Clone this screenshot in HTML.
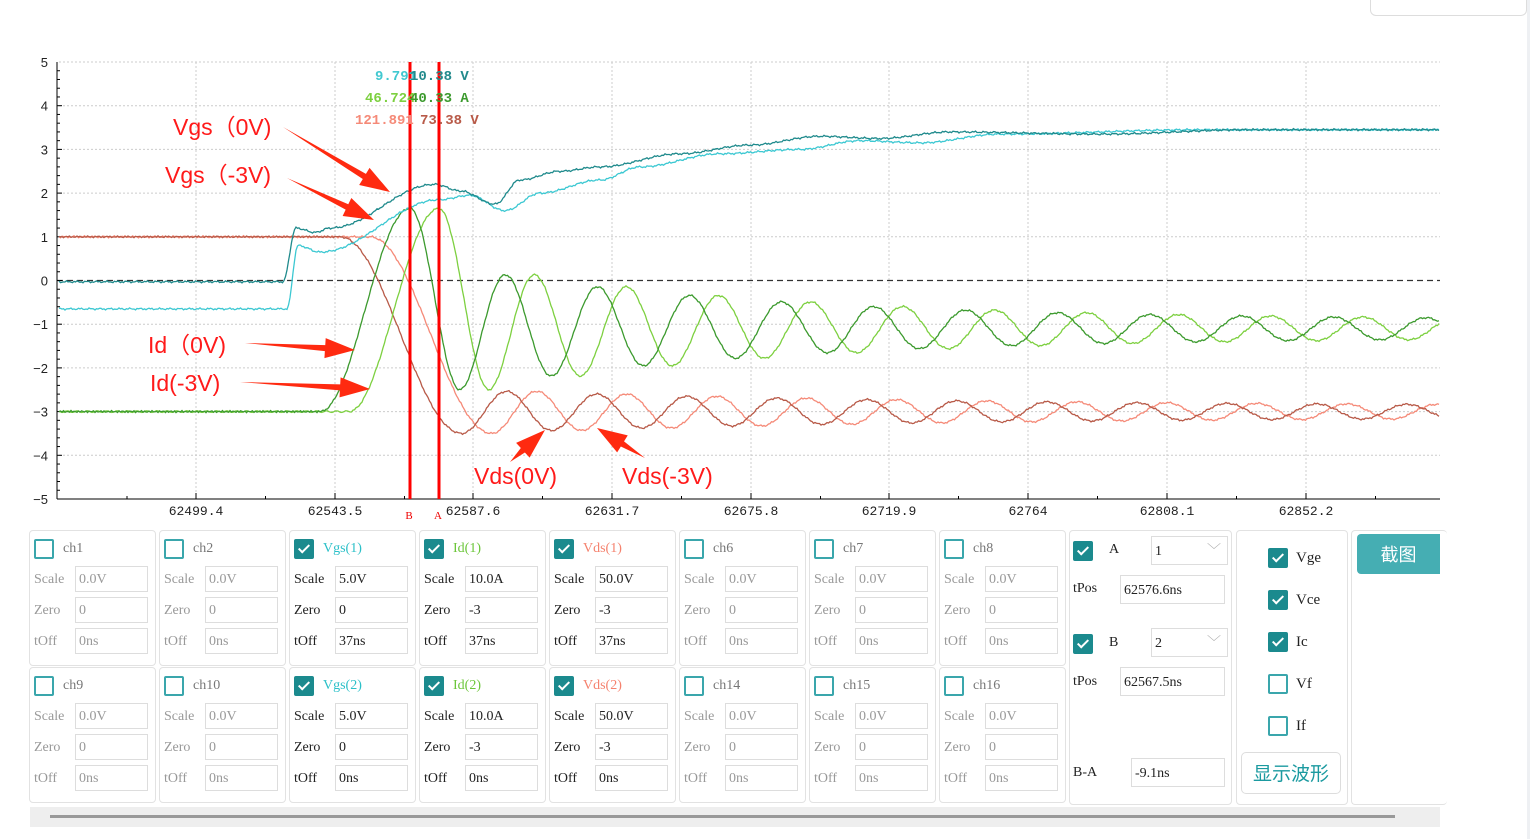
<!DOCTYPE html>
<html><head><meta charset="utf-8">
<style>
body{margin:0;width:1530px;height:839px;background:#fff;overflow:hidden;font-family:"Liberation Serif","Noto Serif CJK SC",serif;position:relative}
.cell{position:absolute;border:1px solid #e2e2e2;border-radius:4px;background:#fff;width:125px;height:134px}
.cb{position:absolute;width:16px;height:16px;border:2px solid #3aa6ac;border-radius:2px;background:#fff}
.cb.on{background:#1b8a8e;border-color:#1b8a8e}
.cb.on:after{content:"";position:absolute;left:5px;top:1px;width:4px;height:9px;border:solid #fff;border-width:0 2px 2px 0;transform:rotate(45deg)}
.lbl{position:absolute;font-size:14px;color:#777}
.row{position:absolute;font-size:14px;color:#999}
.inp{position:absolute;border:1px solid #ddd;height:26px;font-size:14px;line-height:26px;padding-left:3px;color:#999;box-sizing:border-box}
.dk{color:#222}
</style></head><body>
<svg id="s" width="1530" height="530" style="position:absolute;left:0;top:0" font-family="Liberation Sans, sans-serif"></svg>
<div id="panel"></div>
<div style="position:absolute;left:30px;top:807px;width:1410px;height:20px;background:#eee"></div>
<div style="position:absolute;left:50px;top:815px;width:1345px;height:3px;background:#999"></div>
<div style="position:absolute;left:1527px;top:0;width:3px;height:839px;background:#eef0f3"></div>
<div style="position:absolute;left:1370px;top:-10px;width:155px;height:24px;border:1px solid #ddd;border-radius:6px"></div>
<script>
var S=document.getElementById('s'),h='';
function Y(v){return 280.5-43.7*v}
for(var v=-4;v<=5;v++){if(v==0)continue;h+='<line x1="59" x2="1440" y1="'+Y(v)+'" y2="'+Y(v)+'" stroke="#ccc" stroke-dasharray="2,2"/>'}
var tk=[196,335,473,612,751,889,1028,1167,1306],tl=['62499.4','62543.5','62587.6','62631.7','62675.8','62719.9','62764','62808.1','62852.2'];
for(var i=0;i<tk.length;i++){h+='<line x1="'+tk[i]+'" x2="'+tk[i]+'" y1="62" y2="499" stroke="#ccc" stroke-dasharray="2,2"/>';
h+='<line x1="'+tk[i]+'" x2="'+tk[i]+'" y1="499" y2="493" stroke="#000"/>';
h+='<line x1="'+(tk[i]+69.5)+'" x2="'+(tk[i]+69.5)+'" y1="499" y2="496" stroke="#000"/>';
h+='<text x="'+tk[i]+'" y="515" font-size="13" text-anchor="middle" font-family="Liberation Mono,monospace" fill="#222">'+tl[i]+'</text>'}
h+='<line x1="127" x2="127" y1="499" y2="496" stroke="#000"/>';
h+='<line x1="57" x2="1440" y1="280.5" y2="280.5" stroke="#333" stroke-dasharray="6,4" stroke-width="1.3"/>';
h+='<line x1="57" x2="57" y1="62" y2="499" stroke="#000"/><line x1="57" x2="1440" y1="499" y2="499" stroke="#000"/>';
for(var v=-5;v<=5;v+=0.2){var y=Y(v),w=(Math.abs(v-Math.round(v))<0.01)?5:3;h+='<line x1="57" x2="'+(57+w)+'" y1="'+y+'" y2="'+y+'" stroke="#000"/>'}
for(var v=-5;v<=5;v++)h+='<text x="48" y="'+(Y(v)+5)+'" font-size="13" text-anchor="end" fill="#222">'+(v<0?'\u2212'+(-v):v)+'</text>';
function nz(x,k){return Math.sin(x*1.7+k)*0.5+Math.sin(x*0.63+k*2)*0.5}
function cs(a,b,x,va,vb){var t=(x-a)/(b-a);t=Math.max(0,Math.min(1,t));return va+(vb-va)*(1-Math.cos(Math.PI*t))/2}
function id(x,s){x-=s;if(x<320)return -3+0.02*nz(x,1);if(x<410)return cs(320,410,x,-3,1.65);if(x<460)return cs(410,460,x,1.65,-2.5);
var A=0.2+1.2*Math.exp(-(x-460)/300);return -1.1-A*Math.cos(2*Math.PI*(x-460)/92)}
function vds(x,s){x-=s;if(x<340)return 1+0.02*nz(x,2);if(x<462)return cs(340,462,x,1,-3.5);
var A=0.12+0.38*Math.exp(-(x-462)/450);return -3-A*Math.cos(2*Math.PI*(x-462)/90)}
function interp(pts,x){for(var i=1;i<pts.length;i++)if(x<=pts[i][0]){var a=pts[i-1],b=pts[i];return cs(a[0],b[0],x,a[1],b[1])}return pts[pts.length-1][1]}
var g0=[[59,-0.03],[283,-0.03],[296,1.2],[315,1.1],[330,1.2],[435,2.2],[460,2.05],[495,1.75],[520,2.3],[560,2.5],[600,2.6],[680,2.9],[750,3.1],[820,3.3],[880,3.25],[950,3.4],[1100,3.35],[1250,3.45],[1440,3.45]];
var g1=[[59,-0.65],[287,-0.65],[298,0.8],[320,0.65],[440,1.85],[470,1.95],[505,1.6],[540,2.0],[600,2.3],[640,2.6],[720,2.9],[800,3.0],[860,3.2],[920,3.15],[1000,3.35],[1200,3.45],[1440,3.45]];
function path(f,col,k){var d='';for(var x=59;x<=1440;x+=1.5){var v=f(x)+0.025*nz(x,k);d+=(x==59?'M':'L')+x.toFixed(1)+','+Y(v).toFixed(1)}
return '<path d="'+d+'" fill="none" stroke="'+col+'" stroke-width="1.3"/>'}
h+=path(function(x){return vds(x,30)},'#f58a78',3);
h+=path(function(x){return vds(x,0)},'#b85a48',4);
h+=path(function(x){return id(x,29)},'#7dd040',5);
h+=path(function(x){return id(x,0)},'#3c9a2e',6);
h+=path(function(x){return interp(g1,x)},'#3cc8d2',7);
h+=path(function(x){return interp(g0,x)},'#1f8a8c',8);
h+='<line x1="410" x2="410" y1="62" y2="499" stroke="#f00" stroke-width="3"/><line x1="439" x2="439" y1="62" y2="499" stroke="#f00" stroke-width="3"/>';
h+='<text x="409" y="519" font-size="11" fill="#e00" text-anchor="middle" font-family="Liberation Serif">B</text><text x="438" y="519" font-size="11" fill="#e00" text-anchor="middle" font-family="Liberation Serif">A</text>';
var mf='font-family="Liberation Mono,monospace" font-weight="bold" font-size="14"';
h+='<text x="375" y="80" '+mf+' fill="#40c8d0">9.791</text><text x="410" y="80" '+mf+' fill="#238a8c">10.38 V</text>';
h+='<text x="365" y="102" '+mf+' fill="#7dd040">46.724</text><text x="410" y="102" '+mf+' fill="#3c9a2e">40.33 A</text>';
h+='<text x="355" y="124" '+mf+' fill="#f58a78">121.891</text><text x="420" y="124" '+mf+' fill="#b85a48">73.38 V</text>';
function arr(x1,y1,x2,y2){var dx=x2-x1,dy=y2-y1,L=Math.hypot(dx,dy),ux=dx/L,uy=dy/L,px=-uy,py=ux,hl=30,hw=10;
var bx=x2-ux*hl,by=y2-uy*hl;return '<polygon points="'+x1+','+y1+' '+(bx+px*3)+','+(by+py*3)+' '+(bx+px*hw)+','+(by+py*hw)+' '+x2+','+y2+' '+(bx-px*hw)+','+(by-py*hw)+' '+(bx-px*3)+','+(by-py*3)+'" fill="#ff2a10"/>'}
var af='font-size="23" fill="#ff1a1a"';
h+='<text x="173" y="135" '+af+'>Vgs（0V)</text>'+arr(283,127,390,192);
h+='<text x="165" y="183" '+af+'>Vgs（-3V)</text>'+arr(287,178,374,220);
h+='<text x="148" y="353" '+af+'>Id（0V)</text>'+arr(245,343,355,350);
h+='<text x="150" y="391" '+af+'>Id(-3V)</text>'+arr(240,382,370,389);
h+='<text x="474" y="484" '+af+'>Vds(0V)</text>'+arr(510,462,545,430);
h+='<text x="622" y="484" '+af+'>Vds(-3V)</text>'+arr(645,458,597,428);
S.innerHTML=h;
var P='',names=[['ch1','ch2','Vgs(1)','Id(1)','Vds(1)','ch6','ch7','ch8'],['ch9','ch10','Vgs(2)','Id(2)','Vds(2)','ch14','ch15','ch16']];
var cols={2:'#2cc0c8',3:'#6cc63a',4:'#f5826e'};
for(var r=0;r<2;r++)for(var c=0;c<8;c++){var x=29+c*130,y=530+r*137,on=cols[c]!==undefined;
P+='<div class="cell" style="left:'+x+'px;top:'+y+'px"></div>';
P+='<div class="cb'+(on?' on':'')+'" style="left:'+(x+5)+'px;top:'+(y+9)+'px"></div>';
P+='<div class="lbl" style="left:'+(x+34)+'px;top:'+(y+11)+'px;'+(on?'color:'+cols[c]:'')+'">'+names[r][c]+'</div>';
var vals=on?[c==2?'5.0V':c==3?'10.0A':'50.0V',c==2?'0':'-3',r==0?'37ns':'0ns']:['0.0V','0','0ns'],ks=['Scale','Zero','tOff'];
for(var k=0;k<3;k++){P+='<div class="row'+(on?' dk':'')+'" style="left:'+(x+5)+'px;top:'+(y+42+k*31)+'px">'+ks[k]+'</div>';
P+='<div class="inp'+(on?' dk':'')+'" style="left:'+(x+46)+'px;top:'+(y+36+k*31)+'px;width:73px">'+vals[k]+'</div>'}}
P+='<div class="cell" style="left:1069px;top:530px;width:161px;height:273px"></div>';
P+='<div class="cb on" style="left:1073px;top:541px"></div><div class="lbl dk" style="left:1109px;top:542px">A</div>';
P+='<div class="inp dk" style="left:1151px;top:536px;width:77px;height:29px;line-height:29px">1<span style="position:absolute;right:6px;color:#aaa">﹀</span></div>';
P+='<div class="row dk" style="left:1073px;top:581px">tPos</div><div class="inp dk" style="left:1120px;top:575px;width:105px;height:29px;line-height:29px">62576.6ns</div>';
P+='<div class="cb on" style="left:1073px;top:634px"></div><div class="lbl dk" style="left:1109px;top:635px">B</div>';
P+='<div class="inp dk" style="left:1151px;top:628px;width:77px;height:29px;line-height:29px">2<span style="position:absolute;right:6px;color:#aaa">﹀</span></div>';
P+='<div class="row dk" style="left:1073px;top:674px">tPos</div><div class="inp dk" style="left:1120px;top:667px;width:105px;height:29px;line-height:29px">62567.5ns</div>';
P+='<div class="row dk" style="left:1073px;top:765px">B-A</div><div class="inp dk" style="left:1131px;top:758px;width:94px;height:29px;line-height:29px">-9.1ns</div>';
P+='<div class="cell" style="left:1236px;top:530px;width:110px;height:273px"></div>';
var cc=[['Vge',1],['Vce',1],['Ic',1],['Vf',0],['If',0]];
for(var i=0;i<5;i++){P+='<div class="cb'+(cc[i][1]?' on':'')+'" style="left:1268px;top:'+(548+i*42)+'px"></div><div class="lbl dk" style="left:1296px;top:'+(550+i*42)+'px;font-size:15px">'+cc[i][0]+'</div>'}
P+='<div style="position:absolute;left:1241px;top:752px;width:98px;height:40px;border:1px solid #ddd;border-radius:5px;color:#1b9aa0;font-size:19px;text-align:center;line-height:40px;font-family:\'Noto Sans CJK SC\',sans-serif">显示波形</div>';
P+='<div class="cell" style="left:1351px;top:530px;width:95px;height:273px;border-right:none"></div>';
P+='<div style="position:absolute;left:1357px;top:534px;width:83px;height:40px;background:#45aeb3;border-radius:4px 0 0 4px;color:#fff;font-size:18px;text-align:center;line-height:40px;font-family:\'Noto Sans CJK SC\',sans-serif">截图</div>';
document.getElementById('panel').innerHTML=P;
</script>
</body></html>
